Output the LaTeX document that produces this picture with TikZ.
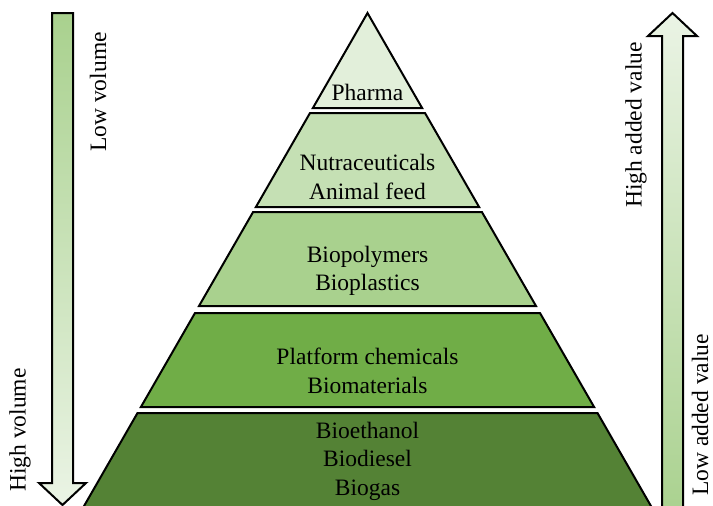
\documentclass[tikz,border=0pt]{standalone}
\usepackage{fontspec}
\setmainfont{Liberation Serif}
\usepackage{xcolor}
\usetikzlibrary{positioning}
\definecolor{tierA}{HTML}{E2EFDA}
\definecolor{tierB}{HTML}{C5E0B4}
\definecolor{tierC}{HTML}{A9D18E}
\definecolor{tierD}{HTML}{70AD47}
\definecolor{tierE}{HTML}{548235}
\begin{document}
\begin{tikzpicture}[x=1pt,y=-1pt,tier/.style={draw=black,line width=2pt,line join=miter},
  bigarrow/.style={draw=black,line width=2pt,line join=miter},
  every node/.style={align=center,inner sep=0pt,font=\fontsize{23.5}{28.5}\selectfont}]
\useasboundingbox (0,0) rectangle (713,506);
\clip (0,0) rectangle (713,506);
% pyramid tiers
\draw[tier,fill=tierA] (367.5,13) -- (422.1,108) -- (312.9,108) -- cycle;
\draw[tier,fill=tierB] (310,113) -- (425,113) -- (479.1,207) -- (255.9,207) -- cycle;
\draw[tier,fill=tierC] (253.1,212) -- (481.9,212) -- (536,306) -- (199,306) -- cycle;
\draw[tier,fill=tierD] (195,313) -- (540,313) -- (594.1,407) -- (140.9,407) -- cycle;
\draw[tier,fill=tierE] (137.5,413) -- (597.5,413) -- (656.7,516) -- (78.3,516) -- cycle;

\node (pharma) at (367.5,92) {Pharma};
\node (feed) at (367.5,177) {Nutraceuticals\\Animal feed};
\node (polymers) at (367.5,271) {Biopolymers\\Bioplastics};
\node (platform) at (367.5,371) {Platform chemicals\\Biomaterials};
\node (fuels) at (367.5,461) {Bioethanol\\Biodiesel\\Biogas};

% side arrows
\shadedraw[bigarrow,top color=tierC,bottom color=tierA!70!white] (52,13) -- (73,13) -- (73,483) -- (86,483)
  -- (62.5,505) -- (39,483) -- (52,483) -- cycle;
\shadedraw[bigarrow,top color=tierA!70!white,bottom color=tierC] (672.5,13) -- (697,36) -- (683,36) -- (683,520)
  -- (662,520) -- (662,36) -- (648,36) -- cycle;

\node[rotate=90] (lowvol) at (98,92) {Low volume};
\node[rotate=90] (highvol) at (20,430) {High volume};
\node[rotate=90] (highval) at (636,125) {High added value};
\node[rotate=90] (lowval) at (700,415) {Low added value};
\end{tikzpicture}
\end{document}
